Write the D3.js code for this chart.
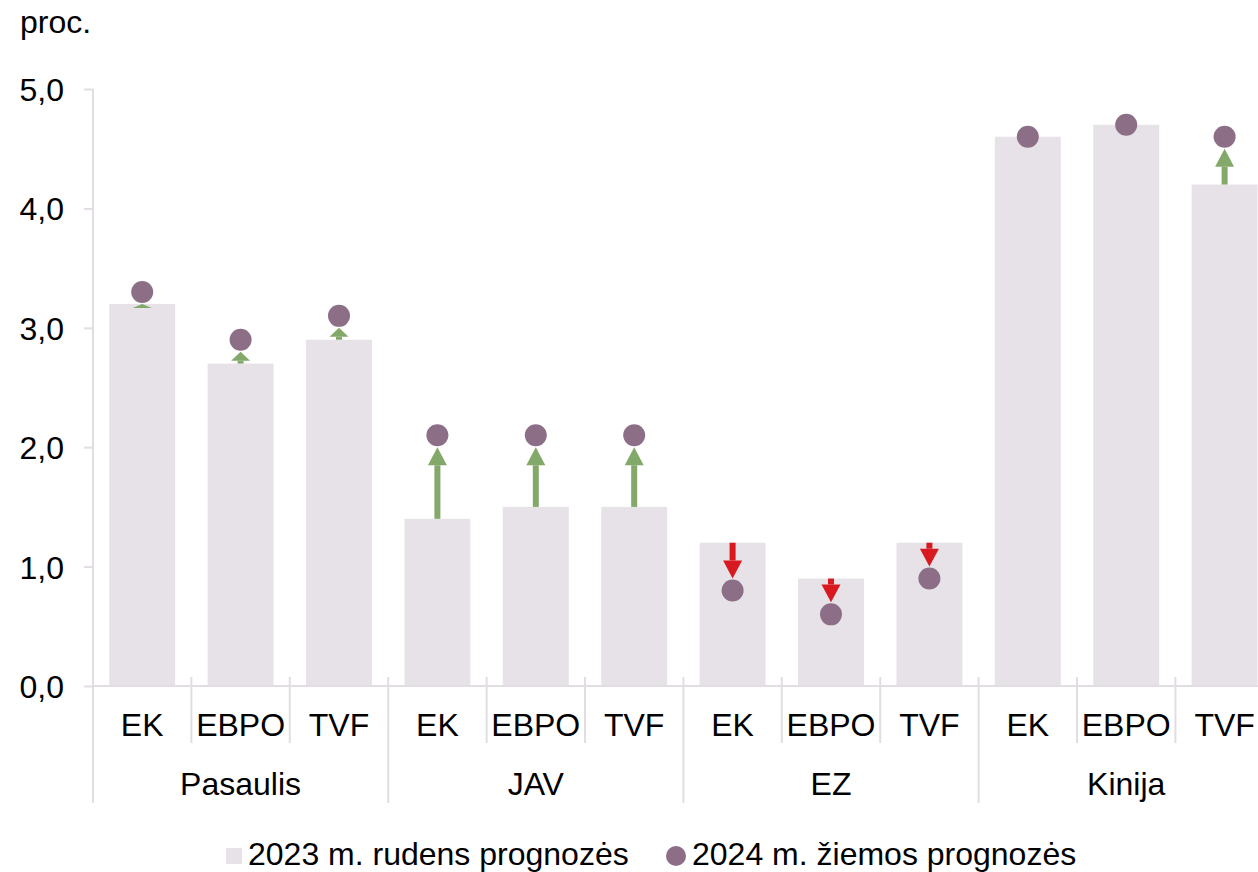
<!DOCTYPE html>
<html><head><meta charset="utf-8">
<script src="https://cdn.jsdelivr.net/npm/d3@7"></script>
<style>body{margin:0;background:#fff;overflow:hidden}text{font-family:"Liberation Sans",Arial,sans-serif;fill:#000}</style>
</head><body><svg id="c" width="1258" height="872"></svg>
<script>
const groups = ["Pasaulis","JAV","EZ","Kinija"];
const institutions = ["EK","EBPO","TVF"];
const autumn2023 = [3.2,2.7,2.9, 1.4,1.5,1.5, 1.2,0.9,1.2, 4.6,4.7,4.2];
const winter2024 = [3.3,2.9,3.1, 2.1,2.1,2.1, 0.8,0.6,0.9, 4.6,4.7,4.6];
const yTicks = [0,1,2,3,4,5];
const legendLabels = ["2023 m. rudens prognozės","2024 m. žiemos prognozės"];

const cats = [];
groups.forEach(g => institutions.forEach(i => cats.push({g, i, key: g + "|" + i})));
const data = cats.map((c, k) => ({...c, a: autumn2023[k], w: winter2024[k]}));

const svg = d3.select("#c");
const left = 93, step = 98.4;
const x = d3.scaleBand().domain(cats.map(c => c.key)).range([left, left + step * cats.length]).paddingInner(0.33).paddingOuter(0.165);
const y = d3.scaleLinear().domain([0,5]).range([686, 89]);
const axisCol = "#E2DDE2", barCol = "#E7E2E7", dotCol = "#8C6E87", upCol = "#83A96A", downCol = "#D81A20";
const fs = 32;

// bars
svg.append("g").selectAll("rect").data(data).join("rect")
  .attr("x", d => x(d.key)).attr("width", x.bandwidth())
  .attr("y", d => y(d.a)).attr("height", d => y(0) - y(d.a)).attr("fill", barCol);

// y axis
const yAxis = svg.append("g").attr("transform", `translate(${left},0)`)
  .call(d3.axisLeft(y).tickValues(yTicks).tickSize(9).tickPadding(20).tickFormat(d => d3.format(".1f")(d).replace(".", ",")));
yAxis.select(".domain").remove();
yAxis.selectAll(".tick line").attr("stroke", axisCol).attr("stroke-width", 2);
yAxis.selectAll(".tick text").attr("font-size", fs).attr("fill", "#000").attr("dy", "0.36em").style("font-family", '"Liberation Sans", Arial, sans-serif');
svg.append("line").attr("x1", left).attr("x2", left).attr("y1", y(5)).attr("y2", 803).attr("stroke", axisCol).attr("stroke-width", 2);

// x axis line
svg.append("line").attr("x1", left).attr("x2", left + step * cats.length).attr("y1", y(0)).attr("y2", y(0)).attr("stroke", axisCol).attr("stroke-width", 2);

// separators
const bounds = d3.range(1, cats.length + 1);
svg.append("g").selectAll("line").data(bounds).join("line")
  .attr("x1", k => left + step * k).attr("x2", k => left + step * k)
  .attr("y1", 677).attr("y2", k => k % 3 === 0 ? 803 : 743)
  .attr("stroke", axisCol).attr("stroke-width", 2);

// inner labels
svg.append("g").selectAll("text").data(data).join("text")
  .attr("x", d => x(d.key) + x.bandwidth() / 2).attr("y", 736)
  .attr("text-anchor", "middle").attr("font-size", fs).text(d => d.i);

// group labels
svg.append("g").selectAll("text").data(groups).join("text")
  .attr("x", (g, k) => left + step * (k * 3 + 1.5)).attr("y", 795)
  .attr("text-anchor", "middle").attr("font-size", fs).text(g => g);

// arrows
const r = 11, headW = 19, shaftW = 6;
data.forEach(d => {
  if (d.w === d.a) return;
  const up = d.w > d.a;
  const y0 = y(d.a);
  const tip = up ? y(d.w) + r + 1 : y(d.w) - r - 1;
  const len = Math.abs(y0 - tip);
  const headL = Math.max(4, Math.min(18, len * 0.75));
  const cx = x(d.key) + x.bandwidth() / 2;
  const dir = up ? 1 : -1;
  const base = tip + dir * headL;
  const col = up ? upCol : downCol;
  const g = svg.append("g");
  if (len > headL) {
    g.append("rect").attr("x", cx - shaftW / 2).attr("width", shaftW)
      .attr("y", Math.min(base, y0)).attr("height", Math.abs(y0 - base)).attr("fill", col);
  }
  g.append("path").attr("d", `M${cx},${tip}L${cx - headW / 2},${base}L${cx + headW / 2},${base}Z`).attr("fill", col);
});

// dots
svg.append("g").selectAll("circle").data(data).join("circle")
  .attr("cx", d => x(d.key) + x.bandwidth() / 2).attr("cy", d => y(d.w)).attr("r", r).attr("fill", dotCol);

// unit label
svg.append("text").attr("x", 20).attr("y", 33).attr("font-size", fs).text("proc.");

// legend
const lg = svg.append("g");
lg.append("rect").attr("x", 226).attr("y", 848).attr("width", 16).attr("height", 16).attr("fill", barCol);
lg.append("text").attr("x", 248).attr("y", 865).attr("font-size", fs).text(legendLabels[0]);
lg.append("circle").attr("cx", 676).attr("cy", 856).attr("r", 10).attr("fill", dotCol);
lg.append("text").attr("x", 692).attr("y", 865).attr("font-size", fs).text(legendLabels[1]);
</script></body></html>
